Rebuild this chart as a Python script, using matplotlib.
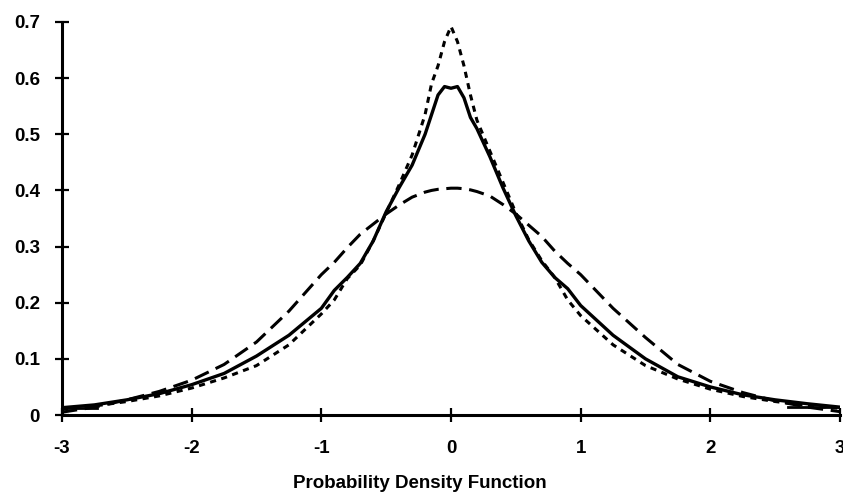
import matplotlib.pyplot as plt

# x grid shared by the three density curves
x = [-3.0, -2.75, -2.5, -2.25, -2.0, -1.75, -1.5, -1.25, -1.0, -0.9, -0.8, -0.7,
     -0.6, -0.5, -0.4, -0.3, -0.2, -0.15, -0.1, -0.05, 0.0, 0.05, 0.1, 0.15, 0.2,
     0.3, 0.4, 0.5, 0.6, 0.7, 0.8, 0.9, 1.0, 1.25, 1.5, 1.75, 2.0, 2.25, 2.5, 2.75, 3.0]

# dashed curve (normal-like)
dashed = [0.005, 0.014, 0.027, 0.042, 0.062, 0.090, 0.130, 0.185, 0.250, 0.272, 0.298, 0.322,
          0.340, 0.358, 0.374, 0.388, 0.397, 0.400, 0.402, 0.403, 0.404, 0.404, 0.403, 0.401, 0.398,
          0.390, 0.375, 0.358, 0.338, 0.318, 0.292, 0.270, 0.250, 0.190, 0.138, 0.090, 0.060, 0.040, 0.025, 0.014, 0.006]

# solid curve
solid = [0.013, 0.018, 0.027, 0.038, 0.054, 0.074, 0.105, 0.142, 0.190, 0.222, 0.245, 0.270,
         0.310, 0.362, 0.405, 0.445, 0.500, 0.535, 0.570, 0.585, 0.582, 0.585, 0.565, 0.530, 0.510,
         0.460, 0.405, 0.355, 0.310, 0.272, 0.245, 0.225, 0.195, 0.142, 0.100, 0.068, 0.050, 0.036, 0.027, 0.020, 0.014]

# dotted curve (sharp peak)
dotted = [0.010, 0.016, 0.024, 0.034, 0.048, 0.066, 0.088, 0.125, 0.180, 0.205, 0.243, 0.267,
          0.310, 0.360, 0.410, 0.463, 0.535, 0.590, 0.622, 0.665, 0.692, 0.665, 0.622, 0.570, 0.525,
          0.470, 0.415, 0.360, 0.312, 0.275, 0.245, 0.205, 0.177, 0.125, 0.088, 0.064, 0.046, 0.033, 0.024, 0.017, 0.012]

xticks = [-3, -2, -1, 0, 1, 2, 3]
yticks = [0, 0.1, 0.2, 0.3, 0.4, 0.5, 0.6, 0.7]
ytick_labels = ["0", "0.1", "0.2", "0.3", "0.4", "0.5", "0.6", "0.7"]

plt.rcParams['font.family'] = ['Liberation Sans', 'DejaVu Sans']

fig = plt.figure(figsize=(8.43, 4.95), dpi=100)
ax = fig.add_axes([62 / 843, 1 - 415 / 495, 778 / 843, 393 / 495])

ax.plot(x, dashed, color='black', lw=2.2, dashes=(5, 2.5))
ax.plot(x, solid, color='black', lw=2.4)
ax.plot(x, dotted, color='black', lw=2.2, dashes=(2, 1.8))
ax.plot([-3, -2.73], [0.0125, 0.0125], color='black', lw=2)
ax.plot([2.6, 3], [0.014, 0.014], color='black', lw=2)

ax.set_xlim(-3, 3)
ax.set_ylim(0, 0.7)
ax.set_xticks(xticks)
ax.set_xticklabels([str(t) for t in xticks])
ax.set_yticks(yticks)
ax.set_yticklabels(ytick_labels)

for s in ['top', 'right']:
    ax.spines[s].set_visible(False)
for s in ['left', 'bottom']:
    ax.spines[s].set_linewidth(2.2)

ax.tick_params(direction='inout', length=10, width=1.6, labelsize=13.5)
ax.tick_params(axis='y', pad=11)
ax.tick_params(axis='x', pad=13)
for lab in ax.get_xticklabels() + ax.get_yticklabels():
    lab.set_fontweight('bold')

fig.text(420 / 843, 1 - 484 / 495, "Probability Density Function",
         ha='center', va='center', fontsize=13.5, fontweight='bold')

fig.savefig('out.png', dpi=100)
